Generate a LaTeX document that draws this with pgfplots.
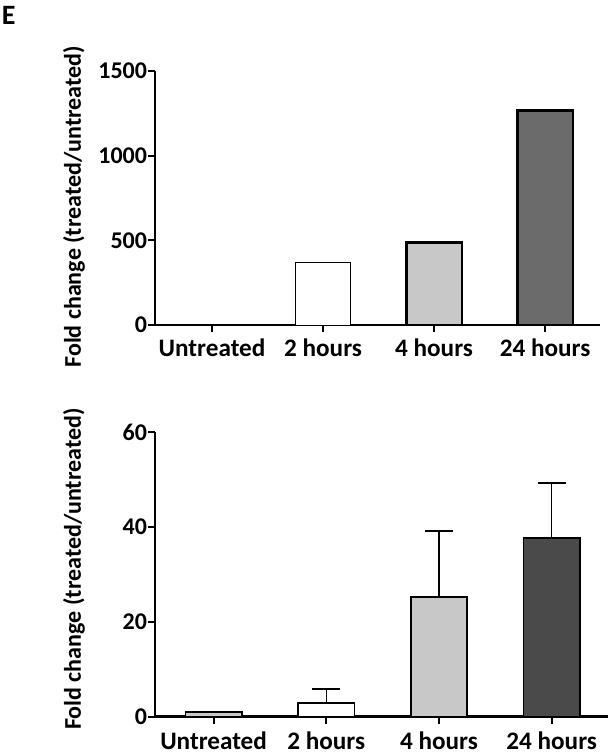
\documentclass[border=0pt]{standalone}
\usepackage{fontspec}
\setmainfont{Carlito}
\usepackage{pgfplots}
\pgfplotsset{compat=1.18}
\definecolor{lightbar}{HTML}{C8C8C8}
\definecolor{midbar}{HTML}{6B6B6B}
\definecolor{darkbar}{HTML}{4A4A4A}

\newcommand{\figfont}{\fontsize{12.6}{15}\selectfont\bfseries}
\newcommand{\numfont}{\fontsize{12}{14}\selectfont\bfseries}

\pgfplotsset{
  foldstyle/.style={
    scale only axis,
    axis lines=left,
    axis line style={-, line width=1.2pt},
    tick style={black, line width=1pt},
    tick align=outside,
    major tick length=3.5pt,
    xtick={0,1,2,3},
    xticklabels={Untreated, 2 hours, 4 hours, 24 hours},
    ymin=0,
    xticklabel style={font=\figfont},
    yticklabel style={font=\numfont, inner sep=0.3pt},
    /pgf/number format/assume math mode=true,
    /pgf/number format/1000 sep={},
    ylabel={Fold change (treated/untreated)},
    label style={font=\numfont},
    ybar, bar width=0.5, bar shift=0pt,
    clip=false,
  },
  errstyle/.style={
    error bars/.cd, y dir=plus, y explicit,
    error bar style={black, line width=0.75pt},
    error mark options={rotate=90, black, line width=0.75pt, mark size=7pt},
  },
}

\begin{document}
\begin{tikzpicture}
\path[use as bounding box] (0,0) rectangle (307pt,-377.5pt);
\node[anchor=base west, inner sep=0pt, font=\fontsize{14}{16}\selectfont\bfseries] at (0.8pt,-12.5pt) {E};

% top panel
\begin{axis}[foldstyle,
  at={(77.5pt,-162.5pt)}, anchor=south west,
  width=222.5pt, height=127pt,
  xmin=-0.514, xmax=3.495,
  ymax=1500, ytick={0,500,1000,1500},
  ylabel style={at={(axis description cs:-0.182,0.465)}, anchor=center},
]
\addplot[fill=white, draw=black, line width=0.5pt] coordinates {(0,1) (1,371)};
\addplot[fill=lightbar, draw=black, line width=1.25pt] coordinates {(2,487)};
\addplot[fill=midbar, draw=black, line width=1.25pt] coordinates {(3,1268)};
\end{axis}

% bottom panel
\begin{axis}[foldstyle,
  at={(77.5pt,-358.25pt)}, anchor=south west,
  width=226.5pt, height=142.25pt,
  xmin=-0.52, xmax=3.5,
  ymax=60, ytick={0,20,40,60},
  xticklabel style={yshift=-0.5pt},
  ylabel style={at={(axis description cs:-0.179,0.518)}, anchor=center},
]
\addplot[fill=lightbar, draw=black, line width=0.75pt] coordinates {(0,0.9)};
\addplot[fill=white, draw=black, line width=0.75pt, errstyle] coordinates {(1,2.9) +- (0,2.9)};
\addplot[fill=lightbar, draw=black, line width=0.75pt, errstyle] coordinates {(2,25.2) +- (0,13.9)};
\addplot[fill=darkbar, draw=black, line width=0.75pt, errstyle] coordinates {(3,37.6) +- (0,11.6)};
\end{axis}
\end{tikzpicture}
\end{document}
